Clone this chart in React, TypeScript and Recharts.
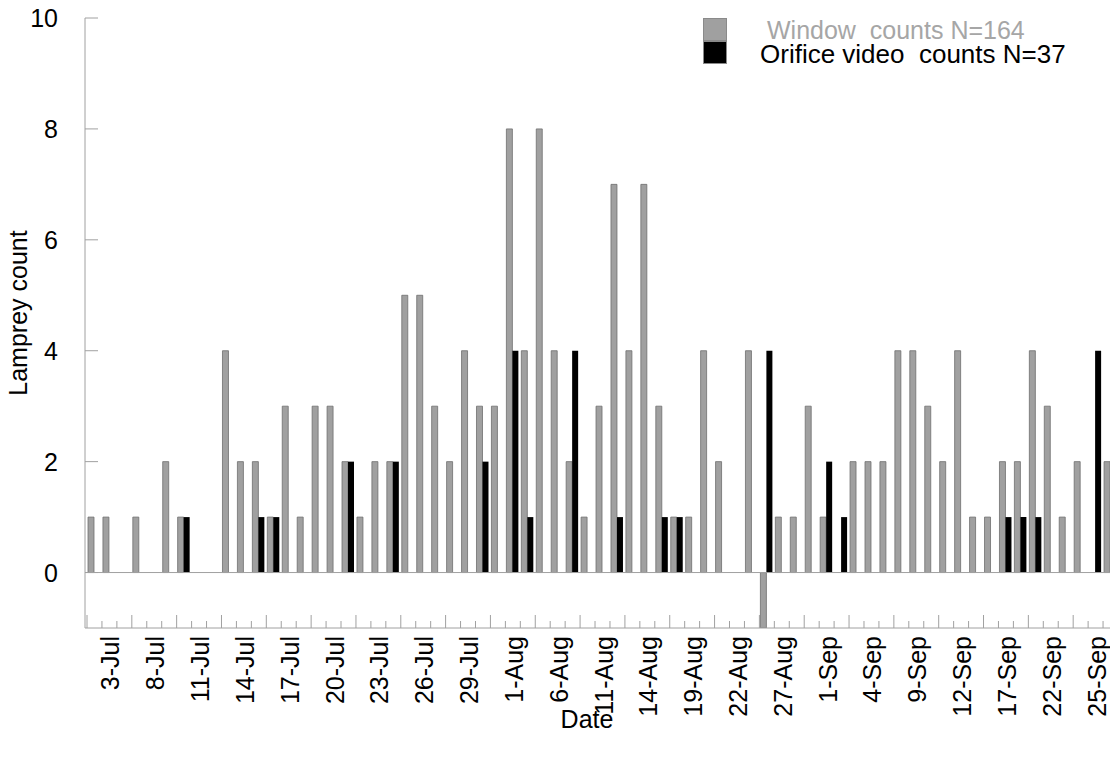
import React from "react";
import { BarChart, Bar, XAxis, YAxis, ReferenceLine } from "recharts";

// sampling days (only every third one is labelled on the axis)
const dates = [
  "2-Jul", "3-Jul", "5-Jul", "7-Jul", "8-Jul", "9-Jul", "10-Jul", "11-Jul", "12-Jul",
  "13-Jul", "14-Jul", "15-Jul", "16-Jul", "17-Jul", "18-Jul", "19-Jul", "20-Jul", "21-Jul",
  "22-Jul", "23-Jul", "24-Jul", "25-Jul", "26-Jul", "27-Jul", "28-Jul", "29-Jul", "30-Jul",
  "31-Jul", "1-Aug", "2-Aug", "4-Aug", "6-Aug", "8-Aug", "9-Aug", "11-Aug", "12-Aug",
  "13-Aug", "14-Aug", "16-Aug", "17-Aug", "19-Aug", "20-Aug", "21-Aug", "22-Aug", "24-Aug",
  "25-Aug", "27-Aug", "29-Aug", "30-Aug", "1-Sep", "2-Sep", "3-Sep", "4-Sep", "6-Sep",
  "7-Sep", "9-Sep", "10-Sep", "11-Sep", "12-Sep", "14-Sep", "15-Sep", "17-Sep", "19-Sep",
  "20-Sep", "22-Sep", "23-Sep", "24-Sep", "25-Sep", "26-Sep",
];

const windowCounts = [
  1, 1, 0, 1, 0, 2, 1, 0, 0,
  4, 2, 2, 1, 3, 1, 3, 3, 2,
  1, 2, 2, 5, 5, 3, 2, 4, 3,
  3, 8, 4, 8, 4, 2, 1, 3, 7,
  4, 7, 3, 1, 1, 4, 2, 0, 4,
  -1, 1, 1, 3, 1, 0, 2, 2, 2,
  4, 4, 3, 2, 4, 1, 1, 2, 2,
  4, 3, 1, 2, 0, 2,
];

const orificeCounts = [
  0, 0, 0, 0, 0, 0, 1, 0, 0,
  0, 0, 1, 1, 0, 0, 0, 0, 2,
  0, 0, 2, 0, 0, 0, 0, 0, 2,
  0, 4, 1, 0, 0, 4, 0, 0, 1,
  0, 0, 1, 1, 0, 0, 0, 0, 0,
  4, 0, 0, 0, 2, 1, 0, 0, 0,
  0, 0, 0, 0, 0, 0, 0, 1, 1,
  1, 0, 0, 0, 4, 0,
];

const yTicks = [0, 2, 4, 6, 8, 10];

const data = dates.map((date, i) => ({
  date,
  window: windowCounts[i],
  orifice: orificeCounts[i],
}));

const AXIS = "#a0a0a0";
const FONT = "'Liberation Sans', Arial, sans-serif";

function DateTick(props: any) {
  const { x, y, payload, index } = props;
  const half = payload.offset || 0;
  const left = x - half;
  const major = index % 3 === 0;
  const ly = y + 8;
  return (
    <g>
      <line x1={left} x2={left} y1={y} y2={y - (major ? 13 : 7)} stroke={AXIS} />
      {index === dates.length - 1 && (
        <line x1={x + half} x2={x + half} y1={y} y2={y - 13} stroke={AXIS} />
      )}
      {index % 3 === 1 && (
        <text
          x={x + 1}
          y={ly}
          transform={`rotate(-90 ${x + 1} ${ly})`}
          textAnchor="end"
          dominantBaseline="central"
          fontSize={25}
          fontFamily={FONT}
          fill="#000"
        >
          {payload.value}
        </text>
      )}
    </g>
  );
}

function CountTick(props: any) {
  const { x, y, payload } = props;
  return (
    <g>
      <line x1={x + 27} x2={x + 40} y1={y} y2={y} stroke={AXIS} />
      <text
        x={x}
        y={y}
        textAnchor="end"
        dominantBaseline="central"
        fontSize={25}
        fontFamily={FONT}
        fill="#000"
      >
        {payload.value}
      </text>
    </g>
  );
}

function DateTitle() {
  return (
    <text x={587} y={728} textAnchor="middle" fontSize={25} fontFamily={FONT} fill="#000">
      Date
    </text>
  );
}

function CountTitle() {
  return (
    <text
      x={18}
      y={313}
      transform="rotate(-90 18 313)"
      textAnchor="middle"
      dominantBaseline="central"
      fontSize={25}
      fontFamily={FONT}
      fill="#000"
    >
      Lamprey count
    </text>
  );
}

function Legend() {
  const text: React.CSSProperties = {
    position: "absolute",
    fontFamily: FONT,
    lineHeight: "23px",
    whiteSpace: "pre",
  };
  const box: React.CSSProperties = {
    position: "absolute",
    left: 703,
    width: 24,
    height: 23,
    boxSizing: "border-box",
    border: "1px solid #8a8a8a",
  };
  return (
    <>
      <div style={{ ...box, top: 18, background: "#a0a0a0" }} />
      <div style={{ ...box, top: 41, background: "#000" }} />
      <div style={{ ...text, left: 767, top: 19, fontSize: 25, color: "#a6a6a6" }}>
        Window  counts N=164
      </div>
      <div style={{ ...text, left: 760, top: 43, fontSize: 26, color: "#000" }}>
        Orifice video  counts N=37
      </div>
    </>
  );
}

export default function App() {
  return (
    <div
      style={{
        position: "absolute",
        left: 0,
        top: 0,
        width: 1110,
        height: 757,
        overflow: "hidden",
        background: "#fff",
      }}
    >
      <BarChart
        width={1118}
        height={757}
        data={data}
        barGap={0}
        margin={{ top: 18, right: 0, bottom: 0, left: 0 }}
      >
        <XAxis
          dataKey="date"
          interval={0}
          height={129}
          padding={{ left: 2, right: 0 }}
          tickSize={0}
          tickMargin={0}
          tickLine={false}
          axisLine={{ stroke: AXIS }}
          tick={<DateTick />}
          label={<DateTitle />}
        />
        <YAxis
          width={85}
          domain={[-1, 10]}
          ticks={yTicks}
          interval={0}
          allowDataOverflow
          tickSize={0}
          tickMargin={27}
          tickLine={false}
          axisLine={{ stroke: AXIS }}
          tick={<CountTick />}
          label={<CountTitle />}
        />
        <ReferenceLine y={0} stroke={AXIS} />
        <Bar
          dataKey="window"
          fill="#a0a0a0"
          stroke="#6e6e6e"
          strokeWidth={0.8}
          barSize={6}
          isAnimationActive={false}
        />
        <Bar dataKey="orifice" fill="#000" barSize={6} isAnimationActive={false} />
      </BarChart>
      <Legend />
    </div>
  );
}
